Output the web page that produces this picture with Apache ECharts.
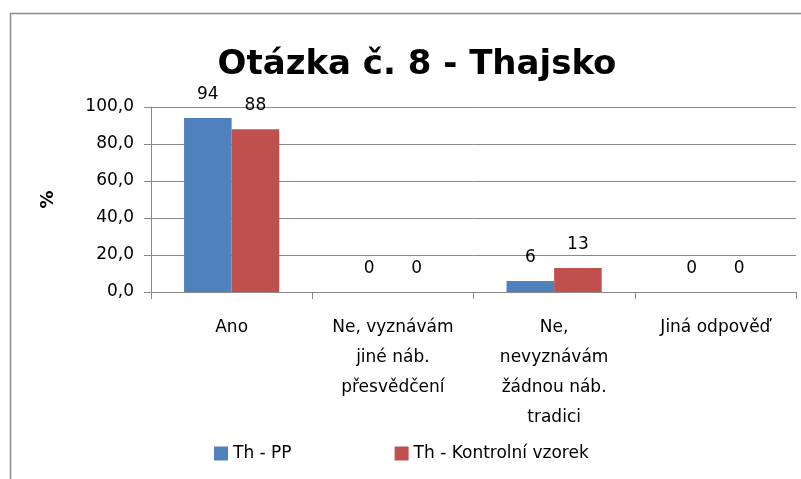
<!DOCTYPE html>
<html>
<head>
<meta charset="utf-8">
<script src="https://cdn.jsdelivr.net/npm/echarts@6/dist/echarts.min.js"></script>
<style>
    html, body { margin: 0; padding: 0; background: #fff; }
    #chart { width: 801px; height: 479px; }
</style>
</head>
<body>
<div id="chart"></div>
<script>
    // odpovědi (kategorie osy x)
    var categories = [
        'Ano',
        'Ne, vyznávám\njiné náb.\npřesvědčení',
        'Ne,\nnevyznávám\nžádnou náb.\ntradici',
        'Jiná odpověď'
    ];
    var seriesNames = ['Th - PP', 'Th - Kontrolní vzorek'];
    var thPP = [94, 0, 6, 0];
    var thKontrolni = [88, 0, 13, 0];
    var yTicks = [0, 20, 40, 60, 80, 100];

    var font = '"DejaVu Sans", sans-serif';
    var chart = echarts.init(document.getElementById('chart'));

    var option = {
        animation: false,
        textStyle: { fontFamily: font },
        graphic: [{
            type: 'rect',
            shape: { x: 10.5, y: 13.5, width: 900, height: 600 },
            style: { fill: 'none', stroke: '#8a8a8a', lineWidth: 1.5 },
            silent: true
        }],
        title: {
            text: 'Otázka č. 8 - Thajsko',
            left: 412,
            textAlign: 'center',
            top: 43,
            textStyle: { fontFamily: font, fontSize: 34, fontWeight: 'bold', color: '#000' }
        },
        legend: {
            data: seriesNames,
            left: 214,
            top: 445,
            padding: 0,
            itemWidth: 14,
            itemHeight: 14,
            itemGap: 103,
            icon: 'rect',
            textStyle: { fontFamily: font, fontSize: 17, color: '#000' }
        },
        grid: { left: 151, right: 5, top: 107, bottom: 187 },
        xAxis: {
            type: 'category',
            data: categories,
            axisLine: { lineStyle: { color: '#888', width: 1 } },
            axisTick: { show: true, length: 7, lineStyle: { color: '#888' } },
            axisLabel: {
                interval: 0,
                margin: 21,
                fontFamily: font,
                fontSize: 17,
                lineHeight: 30,
                color: '#000'
            }
        },
        yAxis: {
            type: 'value',
            min: yTicks[0],
            max: yTicks[yTicks.length - 1],
            interval: 20,
            name: '%',
            nameLocation: 'middle',
            nameGap: 94,
            nameRotate: 90,
            nameTextStyle: { fontFamily: font, fontSize: 18, fontWeight: 'bold', color: '#000' },
            axisLine: { show: true, lineStyle: { color: '#888' } },
            axisTick: { show: true, length: 7, lineStyle: { color: '#888' } },
            splitLine: { lineStyle: { color: '#888', width: 1 } },
            axisLabel: {
                margin: 17,
                fontFamily: font,
                fontSize: 17,
                color: '#000',
                formatter: function (v) { return v.toFixed(1).replace('.', ','); }
            }
        },
        series: [
            {
                name: seriesNames[0],
                type: 'bar',
                data: thPP,
                barGap: '0%',
                barCategoryGap: '41%',
                itemStyle: { color: '#4F81BD' },
                label: { show: true, position: 'top', distance: 15, fontFamily: font, fontSize: 17, color: '#000' }
            },
            {
                name: seriesNames[1],
                type: 'bar',
                data: thKontrolni,
                barGap: '0%',
                barCategoryGap: '41%',
                itemStyle: { color: '#C0504D' },
                label: { show: true, position: 'top', distance: 15, fontFamily: font, fontSize: 17, color: '#000' }
            }
        ]
    };

    chart.setOption(option);
</script>
</body>
</html>
